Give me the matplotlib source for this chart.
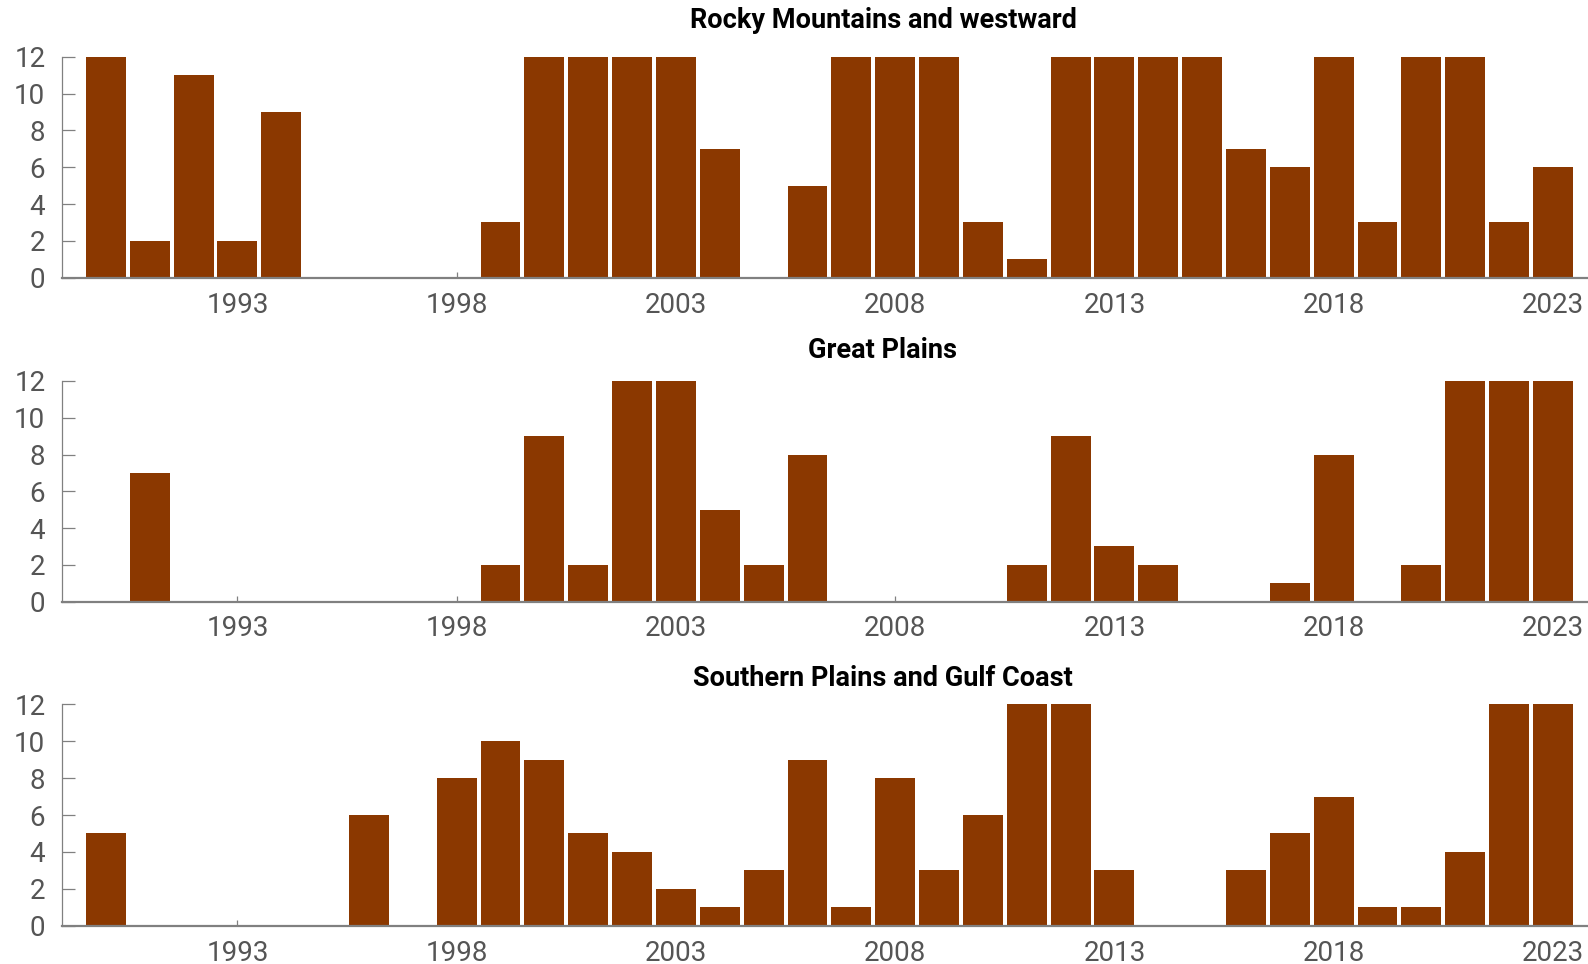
import matplotlib
matplotlib.use("Agg")
import matplotlib.pyplot as plt
import numpy as np

years = list(range(1990, 2024))

rocky = [12, 2, 11, 2, 9, 0, 0, 0, 0, 3,
         12, 12, 12, 12, 7, 0, 5, 12, 12, 12,
         3, 1, 12, 12, 12, 12, 7, 6, 12, 3,
         12, 12, 3, 6]
plains = [0, 7, 0, 0, 0, 0, 0, 0, 0, 2,
          9, 2, 12, 12, 5, 2, 8, 0, 0, 0,
          0, 2, 9, 3, 2, 0, 0, 1, 8, 0,
          2, 12, 12, 12]
southern = [5, 0, 0, 0, 0, 0, 6, 0, 8, 10,
            9, 5, 4, 2, 1, 3, 9, 1, 8, 3,
            6, 12, 12, 3, 0, 0, 3, 5, 7, 1,
            1, 4, 12, 12]

titles = ["Rocky Mountains and westward", "Great Plains", "Southern Plains and Gulf Coast"]
series = [rocky, plains, southern]
xticks = [1993, 1998, 2003, 2008, 2013, 2018, 2023]
yticks = [0, 2, 4, 6, 8, 10, 12]

W, H = 1588, 964
BAR = "#8b3800"
GRAY = "#808080"
TXT = "#555555"

plt.rcParams['font.family'] = ['Roboto', 'DejaVu Sans']

fig = plt.figure(figsize=(W / 100, H / 100), dpi=100)

# pixel positions (top of y=12, bottom at y=0) for each panel
panel_px = [(56.7, 277.7), (381.0, 601.6), (704.3, 925.7)]
title_y = [21, 350, 679]
left_px = 62

for vals, title, (top, bot), ty in zip(series, titles, panel_px, title_y):
    ax = fig.add_axes([left_px / W, 1 - bot / H, 1 - left_px / W, (bot - top) / H])
    ax.bar(years, vals, width=0.91, color=BAR, clip_on=False, zorder=2)
    ax.set_xlim(1989.0, 2023.8)
    ax.set_ylim(0, 12)
    ax.set_xticks(xticks)
    ax.set_yticks(yticks)
    ax.spines['top'].set_visible(False)
    ax.spines['right'].set_visible(False)
    ax.spines['bottom'].set_color(GRAY)
    ax.spines['bottom'].set_linewidth(1.6)
    ax.spines['bottom'].set_zorder(3)
    ax.spines['left'].set_color(GRAY)
    ax.spines['left'].set_linewidth(0.9)
    ax.tick_params(axis='y', direction='in', length=9.5, width=0.9, color=GRAY,
                   labelsize=20, labelcolor=TXT, pad=12)
    ax.tick_params(axis='x', direction='in', length=4.5, width=0.9, color=GRAY,
                   labelsize=20, labelcolor=TXT, pad=10)
    fig.text(883 / W, 1 - ty / H, title, ha='center', va='center',
             fontsize=19.5, fontweight='bold', color='black')

fig.savefig("out.png", dpi=100)
